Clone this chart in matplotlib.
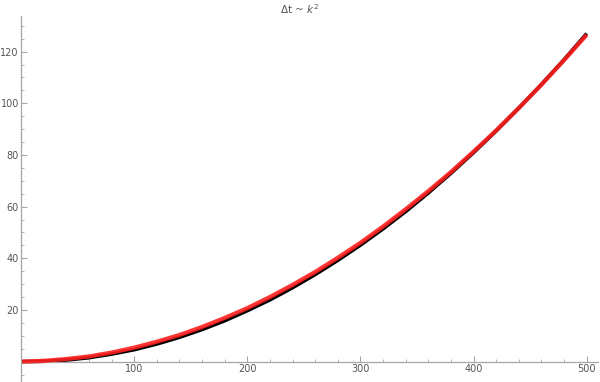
import matplotlib
matplotlib.use("Agg")
import matplotlib.pyplot as plt
from matplotlib.ticker import MultipleLocator, FixedLocator

k = [1, 20, 40, 60, 80, 100, 120, 140, 160, 180, 200, 220, 240, 260, 280,
     300, 320, 340, 360, 380, 400, 420, 440, 460, 480, 500]
dt_data = [0.0, 0.1, 0.6, 1.5, 2.9, 4.6, 6.8, 9.4, 12.4, 15.8, 19.7, 23.9,
           28.6, 33.7, 39.2, 45.1, 51.4, 58.1, 65.3, 72.9, 80.9, 89.3, 98.1,
           107.3, 116.9, 127.0]
dt_fit = [0.0, 0.3, 1.0, 2.0, 3.5, 5.4, 7.7, 10.3, 13.4, 16.9, 20.7, 25.0,
          29.7, 34.7, 40.2, 46.0, 52.3, 59.0, 66.0, 73.4, 81.3, 89.5, 98.2,
          107.2, 116.7, 126.5]
xticks = [100, 200, 300, 400, 500]
yticks = [20, 40, 60, 80, 100, 120]
title = "Δt ~ $k^2$"

fig = plt.figure(figsize=(6, 3.82), dpi=100)
ax = fig.add_axes([21/600, 0.0, 577/600, 366/382])
ax.plot(k, dt_data, color="black", lw=2.6, solid_capstyle="butt", zorder=2)
ax.plot(k, dt_fit, color="#ff2020", lw=3.0, alpha=0.9, solid_capstyle="butt", zorder=3)

ax.set_xlim(0.0, 510)
ax.set_ylim(-7.9, 133.8)
for s in ["top", "right"]:
    ax.spines[s].set_visible(False)
ax.spines["left"].set_position(("data", 0))
ax.spines["bottom"].set_position(("data", 0))
for s in ["left", "bottom"]:
    ax.spines[s].set_color("#a6a6a6")
    ax.spines[s].set_linewidth(0.9)

ax.xaxis.set_major_locator(FixedLocator(xticks))
ax.yaxis.set_major_locator(FixedLocator(yticks))
ax.xaxis.set_minor_locator(MultipleLocator(20))
ax.yaxis.set_minor_locator(MultipleLocator(5))
ax.tick_params(which="major", direction="in", length=4, width=0.8, color="#a6a6a6",
               labelsize=7, labelcolor="#555555", pad=2)
ax.tick_params(axis="y", which="major", pad=1.5)
ax.tick_params(which="minor", direction="in", length=2, width=0.6, color="#a6a6a6")
ax.set_facecolor("white")
fig.text(0.5, 1 - 9/382, title, ha="center", va="center", fontsize=7.5, color="#555555")

fig.savefig("out.png", dpi=100, facecolor="white")
